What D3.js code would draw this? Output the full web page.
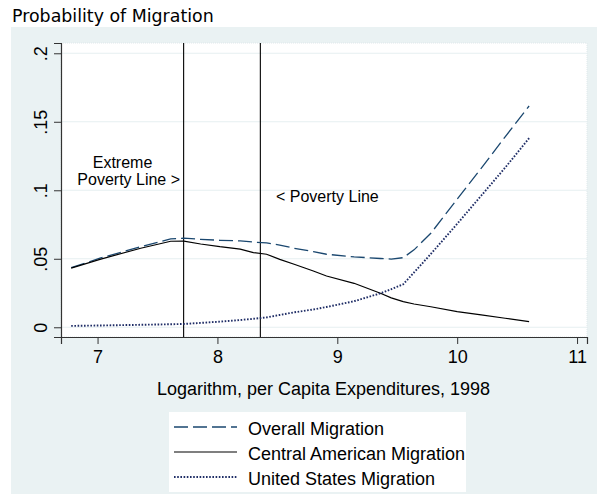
<!DOCTYPE html>
<html>
<head>
<meta charset="utf-8">
<script src="https://cdn.jsdelivr.net/npm/d3@7"></script>
<style>
  body { margin: 0; background: #fff; }
  text { font-family: "Liberation Sans", Arial, sans-serif; fill: #000; }
</style>
</head>
<body>
<div id="chart"></div>
<script>
// data
const logExp   = [6.78, 7.02, 7.36, 7.61, 7.72, 7.86, 8.02, 8.19, 8.30, 8.41, 8.52, 8.64, 8.80, 8.91, 9.14, 9.36, 9.45, 9.55, 9.64, 9.78, 10.0, 10.2, 10.4, 10.6];
const overall  = [.0435, .0504, .0588, .0645, .0650, .0642, .0635, .0630, .0622, .0616, .0600, .0577, .0552, .0533, .0514, .0502, .0498, .0508, .0565, .0686, .0935, .1160, .1390, .1615];
const central  = [.0432, .0496, .0577, .0628, .0629, .0608, .0588, .0571, .0545, .0533, .0496, .0460, .0411, .0374, .0321, .0248, .0215, .0187, .0170, .0150, .0114, .0090, .0066, .0041];
const usMig    = [.0010, .0013, .0018, .0022, .0024, .0032, .0041, .0053, .0062, .0072, .0090, .0109, .0130, .0148, .0190, .0248, .0278, .0314, .0400, .0535, .0755, .0960, .1165, .1380];
const xTicks = [7, 8, 9, 10, 11];
const yTicks = [0, .05, .1, .15, .2];
const yTickLabels = ["0", ".05", ".1", ".15", ".2"];
const povertyLines = [7.718, 8.358];
const seriesNames = ["Overall Migration", "Central American Migration", "United States Migration"];

const W = 597, H = 494;
const plot = {left: 61, right: 587, top: 43, bottom: 337};

const svg = d3.select("#chart").append("svg")
    .attr("width", W).attr("height", H);

// outer light panel
svg.append("rect").attr("x", 11).attr("y", 27).attr("width", W - 11).attr("height", H - 27)
    .attr("fill", "#eaf2f3");
svg.append("rect").attr("x", plot.left).attr("y", plot.top)
    .attr("width", plot.right - plot.left).attr("height", plot.bottom - plot.top)
    .attr("fill", "#fff").attr("stroke", "#dfe8eb").attr("stroke-dasharray", "1,1");

// title
svg.append("text").attr("x", 12).attr("y", 21.5)
    .style("font-family", "'DejaVu Sans', sans-serif").style("font-size", "17.4px")
    .text("Probability of Migration");

const x = d3.scaleLinear().domain([6.695, 11.083]).range([plot.left, plot.right]);
const y = d3.scaleLinear().domain([-0.0071, 0.2075]).range([plot.bottom, plot.top]);

// gridlines
svg.append("g").selectAll("line").data(yTicks).join("line")
    .attr("x1", plot.left).attr("x2", plot.right)
    .attr("y1", d => y(d)).attr("y2", d => y(d))
    .attr("stroke", "#e6eff1").attr("stroke-width", 1.2);

// axes
const xAxis = svg.append("g").attr("transform", `translate(0,${plot.bottom})`)
    .call(d3.axisBottom(x).tickValues(xTicks).tickSizeOuter(0).tickSize(7).tickPadding(6).tickFormat(d3.format("d")));
const yAxis = svg.append("g").attr("transform", `translate(${plot.left},0)`)
    .call(d3.axisLeft(y).tickValues(yTicks).tickSizeOuter(0).tickSize(7)
        .tickFormat((d, i) => yTickLabels[i]));
[xAxis, yAxis].forEach(a => {
  a.select(".domain").attr("stroke", "#333").attr("stroke-width", 1.2);
  a.selectAll(".tick line").attr("stroke", "#333");
  a.selectAll("text").style("font-family", "'Liberation Sans', Arial, sans-serif").style("font-size", "18px").attr("fill", "#000");
});
yAxis.selectAll(".tick text")
    .attr("x", null).attr("dy", null)
    .attr("text-anchor", "middle")
    .attr("transform", "translate(-14,0) rotate(-90)");

// poverty lines
svg.append("g").selectAll("line").data(povertyLines).join("line")
    .attr("x1", d => x(d)).attr("x2", d => x(d))
    .attr("y1", plot.top).attr("y2", plot.bottom)
    .attr("stroke", "#000").attr("stroke-width", 1.1);

// annotations
const ann = svg.append("g").style("font-size", "16px");
ann.append("text").attr("x", 122.5).attr("y", 168).attr("text-anchor", "middle").text("Extreme");
ann.append("text").attr("x", 128.7).attr("y", 185).attr("text-anchor", "middle").text("Poverty Line >");
ann.append("text").attr("x", 276).attr("y", 202).text("< Poverty Line");

// curves
const styles = [
  {values: overall, color: "#1a476f", dash: "14,5", width: 1.3},
  {values: central, color: "#000", dash: null, width: 1.2},
  {values: usMig, color: "#1f2d66", dash: "1.6,1.6", width: 1.9}
];
const line = d3.line().x(d => x(d[0])).y(d => y(d[1]));
styles.forEach(s => {
  svg.append("path")
      .datum(logExp.map((v, i) => [v, s.values[i]]))
      .attr("d", line)
      .attr("fill", "none")
      .attr("stroke", s.color)
      .attr("stroke-width", s.width)
      .attr("stroke-dasharray", s.dash);
});

// x axis title
svg.append("text").attr("x", 323.5).attr("y", 395).attr("text-anchor", "middle")
    .style("font-size", "18px")
    .text("Logarithm, per Capita Expenditures, 1998");

// legend
const lg = svg.append("g");
lg.append("rect").attr("x", 169).attr("y", 412).attr("width", 297).attr("height", 80).attr("fill", "#fff");
const rows = [427, 452, 477];
styles.forEach((s, i) => {
  lg.append("line").attr("x1", 174).attr("x2", 237).attr("y1", rows[i]).attr("y2", rows[i])
      .attr("stroke", s.color).attr("stroke-width", s.width).attr("stroke-dasharray", s.dash);
  lg.append("text").attr("x", 248).attr("y", rows[i] + 7.5).style("font-size", "18px").text(seriesNames[i]);
});
</script>
</body>
</html>
